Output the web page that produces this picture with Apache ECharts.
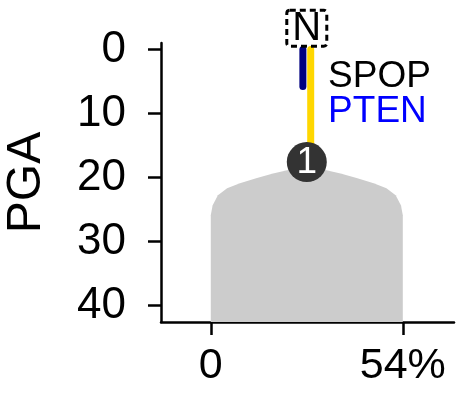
<!DOCTYPE html>
<html>
<head>
<meta charset="utf-8">
<script src="https://cdn.jsdelivr.net/npm/echarts@6/dist/echarts.min.js"></script>
<style>html,body{margin:0;padding:0;background:#fff}#c{width:456px;height:393px}</style>
</head>
<body>
<div id="c"></div>
<script>
const yTicks = [0, 10, 20, 30, 40];
const xTicks = [0, 54];
const xTickLabels = ['0', '54%'];
const yName = 'PGA';
// clone shape outline (x in %, y in PGA)
const shapeX = [0, 0, 0.5, 2, 4.6, 8.2, 13, 17.5, 21.5, 27, 32.5, 36.5, 41, 45.8, 49.4, 52, 53.5, 54, 54];
const shapeY = [42.6, 25.9, 24.4, 22.8, 21.7, 20.9, 20.1, 19.4, 18.9, 18.3, 18.9, 19.4, 20.1, 20.9, 21.7, 22.8, 24.4, 25.9, 42.6];
// clone node
const cloneX = [27];
const cloneY = [17.6];
const cloneLabels = ['1'];
// mutation branches
const branchGenes = ['PTEN', 'SPOP'];
const branchX = [25.9, 28.1];
const branchStart = [0, 0];
const branchEnd = [5.8, 17.6];
// gene labels
const geneNames = ['SPOP', 'PTEN'];
const geneX = [33, 33];
const geneY = [4.3, 9.8];
// root box
const rootLabel = 'N';
const rootX = 27;
const rootY = -3.3;

const geneColors = { SPOP: '#000000', PTEN: '#0000ff' };
const branchColors = { SPOP: '#ffd700', PTEN: '#000080' };

const chart = echarts.init(document.getElementById('c'));
const FONT = 'Liberation Sans, Arial, sans-serif';

const series = [];
series.push({
  type: 'custom',
  clip: false,
  z: 1,
  data: [0],
  renderItem: function (params, api) {
    const pts = shapeX.map((x, i) => api.coord([x, shapeY[i]]));
    return { type: 'polygon', shape: { points: pts, smooth: 0 }, style: { fill: '#cccccc' } };
  }
});
branchGenes.forEach((g, i) => {
  series.push({
    type: 'line',
    z: 3,
    symbol: 'none',
    silent: true,
    clip: false,
    data: [[branchX[i], branchStart[i]], [branchX[i], branchEnd[i]]],
    lineStyle: { color: branchColors[g], width: 7, cap: 'round' }
  });
});
series.push({
  type: 'scatter',
  z: 5,
  symbol: 'circle',
  symbolSize: 40,
  data: cloneX.map((x, i) => [x, cloneY[i], cloneLabels[i]]),
  itemStyle: { color: '#333333', opacity: 1 },
  label: { show: true, position: 'inside', formatter: p => p.data[2], color: '#ffffff', fontSize: 37, fontFamily: FONT, offset: [0, 1] }
});
series.push({
  type: 'custom',
  clip: false,
  z: 6,
  data: [0],
  renderItem: function (params, api) {
    const c = api.coord([rootX, rootY]);
    return {
      type: 'group',
      children: [
        { type: 'rect', shape: { x: c[0] - 20, y: c[1] - 18, width: 40, height: 36, r: 3 },
          style: { fill: 'none', stroke: '#000', lineWidth: 3, lineDash: [6, 4] } },
        { type: 'text', style: { x: c[0], y: c[1] + 1, text: rootLabel, fill: '#000', fontSize: 40, fontFamily: FONT, align: 'center', verticalAlign: 'middle' } }
      ]
    };
  }
});
series.push({
  type: 'custom',
  clip: false,
  z: 6,
  data: geneNames.map((g, i) => [geneX[i], geneY[i], i]),
  renderItem: function (params, api) {
    const i = api.value(2);
    const c = api.coord([api.value(0), api.value(1)]);
    return { type: 'text', style: { x: c[0], y: c[1], text: geneNames[i], fill: geneColors[geneNames[i]], fontSize: 37, fontFamily: FONT, align: 'left', verticalAlign: 'middle' } };
  }
});

chart.setOption({
  animation: false,
  grid: { left: 161, right: 2, top: 43, bottom: 71, containLabel: false, outerBoundsMode: 'none' },
  xAxis: {
    type: 'value', min: -14, max: 68.4,
    splitLine: { show: false },
    axisLine: { onZero: false, lineStyle: { color: '#000', width: 2.5 } },
    axisTick: { show: true, length: 13, customValues: xTicks, lineStyle: { color: '#000', width: 2.5 } },
    axisLabel: { customValues: xTicks, margin: 23, fontSize: 43, color: '#000', fontFamily: FONT,
      formatter: v => xTickLabels[xTicks.indexOf(v)] }
  },
  yAxis: {
    type: 'value', inverse: true, min: -1, max: 42.6,
    name: yName, nameLocation: 'middle', nameGap: 110, nameRotate: 90,
    nameTextStyle: { fontSize: 48, color: '#000', fontFamily: FONT },
    splitLine: { show: false },
    axisLine: { onZero: false, lineStyle: { color: '#000', width: 2.5 } },
    axisTick: { show: true, length: 13, customValues: yTicks, lineStyle: { color: '#000', width: 2.5 } },
    axisLabel: { customValues: yTicks, margin: 35, fontSize: 44, color: '#000', fontFamily: FONT }
  },
  series: series
});
</script>
</body>
</html>
